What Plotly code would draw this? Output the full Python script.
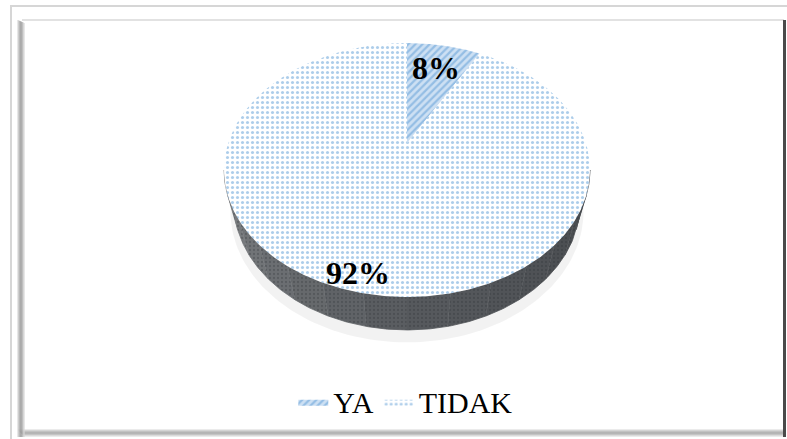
import numpy as np
import plotly.graph_objects as go

# ---- data ----
labels = ["YA", "TIDAK"]
values = [8, 92]

# ---- styling ----
slice_fg = ["#5b9bd5", "#5b9bd5"]
slice_bg = ["#cde0f3", "#ffffff"]
slice_shape = ["/", "."]
slice_size = [5, 5]
slice_solid = [0.45, 0.3]
label_radius = [0.74, 0.90]

W, H = 787, 439
CX, CY = 407.0, 143.0          # screen position of the pie centre
F, DIST = 617.7, 3.455         # perspective focal length / camera distance
SA, CA = 0.678, 0.735          # sin / cos of the tilt angle
THICK = 0.274                  # disc thickness (unit radius)


def project(x, y, z):
    x, y, z = np.asarray(x, float), np.asarray(y, float), np.asarray(z, float)
    yc = y * CA + z * SA
    zc = DIST + z * CA - y * SA
    return CX + F * x / zc, CY - F * yc / zc


def rim(t0, t1, y=0.0, r=1.0, n=120):
    t = np.radians(np.linspace(t0, t1, n))
    return project(r * np.sin(t), np.full_like(t, y), r * np.cos(t))


fig = go.Figure()

# soft shadow beneath the disc
for grow, drop, alpha in [(1.03, 0.06, 0.05)]:
    sx, sy = rim(0, 360, y=-THICK - drop, r=grow, n=240)
    fig.add_trace(go.Scatter(x=sx, y=sy, mode="lines", fill="toself",
                             fillcolor=f"rgba(0,0,0,{alpha})", line=dict(width=0),
                             hoverinfo="skip", showlegend=False))

# visible side wall, shaded from lighter (left) to dark (right)
tm = np.degrees(np.arccos(-CA / DIST))
edges = np.linspace(360 - tm, tm, 15)
c_left, c_mid, c_right = np.array([125, 128, 131]), np.array([88, 91, 95]), np.array([72, 75, 79])
for i in range(len(edges) - 1):
    a0, a1 = edges[i], edges[i + 1]
    u = i / (len(edges) - 2)
    col = c_left + (c_mid - c_left) * min(1, u * 2) if u < 0.5 else c_mid + (c_right - c_mid) * (u - 0.5) * 2
    col = "rgb(%d,%d,%d)" % tuple(col.astype(int))
    tx, ty = rim(a0, a1, 0.0, n=20)
    bx, by = rim(a1, a0, -THICK, n=20)
    fig.add_trace(go.Scatter(
        x=np.concatenate([tx, bx]), y=np.concatenate([ty, by]),
        mode="lines", fill="toself", fillcolor=col,
        fillpattern=dict(shape=".", fgcolor="rgba(40,42,46,0.55)", bgcolor=col, size=4, solidity=0.25),
        line=dict(width=0.8, color=col), hoverinfo="skip", showlegend=False))

# top face slices
total = sum(values)
start = 0.0
for i, (lab, v) in enumerate(zip(labels, values)):
    sweep = 360.0 * v / total
    ax, ay = project(0, 0, 0)
    px, py = rim(start, start + sweep, 0.0, n=max(8, int(sweep * 2)))
    fig.add_trace(go.Scatter(
        x=np.concatenate([[ax], px, [ax]]), y=np.concatenate([[ay], py, [ay]]),
        mode="lines", fill="toself", name=lab, fillcolor=slice_bg[i],
        fillpattern=dict(shape=slice_shape[i], fgcolor=slice_fg[i], bgcolor=slice_bg[i],
                         size=slice_size[i], solidity=slice_solid[i]),
        line=dict(width=0, color=slice_fg[i]), hoverinfo="skip", showlegend=True))
    mid = np.radians(start + sweep / 2)
    r = label_radius[i]
    lx, ly = project(r * np.sin(mid), 0, r * np.cos(mid))
    fig.add_annotation(x=float(lx), y=float(ly), text=f"<b>{round(100 * v / total)}%</b>",
                       showarrow=False,
                       font=dict(family="Liberation Serif", size=32, color="black"))
    start += sweep

# picture frame
shapes = [
    dict(type="rect", x0=11, y0=6, x1=W + 5, y1=H + 5, line=dict(color="#d6d6d6", width=2)),
    dict(type="line", x0=22, y0=20, x1=784, y1=20, line=dict(color="#e2e2e2", width=2)),
    dict(type="line", x0=784.5, y0=20, x1=784.5, y1=437, line=dict(color="#4a4a4a", width=3)),
]
for k, g in enumerate([215, 190, 165, 150, 160, 185, 215]):
    col = f"rgb({g},{g},{g})"
    shapes.append(dict(type="line", x0=18 + k, y0=20 + k * 0.5, x1=18 + k, y1=437,
                       line=dict(color=col, width=1.2)))
    shapes.append(dict(type="line", x0=18 + k, y0=430 + k * 1.0, x1=783, y1=430 + k * 1.0,
                       line=dict(color=col, width=1.2)))
for s in shapes:
    s.update(xref="x", yref="y", layer="above")

fig.update_layout(
    width=W, height=H, margin=dict(l=0, r=0, t=0, b=0),
    paper_bgcolor="white", plot_bgcolor="white",
    xaxis=dict(range=[0, W], visible=False, fixedrange=True),
    yaxis=dict(range=[H, 0], visible=False, fixedrange=True),
    shapes=shapes,
    showlegend=True,
    legend=dict(orientation="h", x=0.515, xanchor="center", y=0.085, yanchor="middle",
                font=dict(family="Liberation Serif", size=30, color="black"),
                bgcolor="rgba(0,0,0,0)", itemwidth=30, traceorder="normal"),
)

fig.write_html("out.html")
